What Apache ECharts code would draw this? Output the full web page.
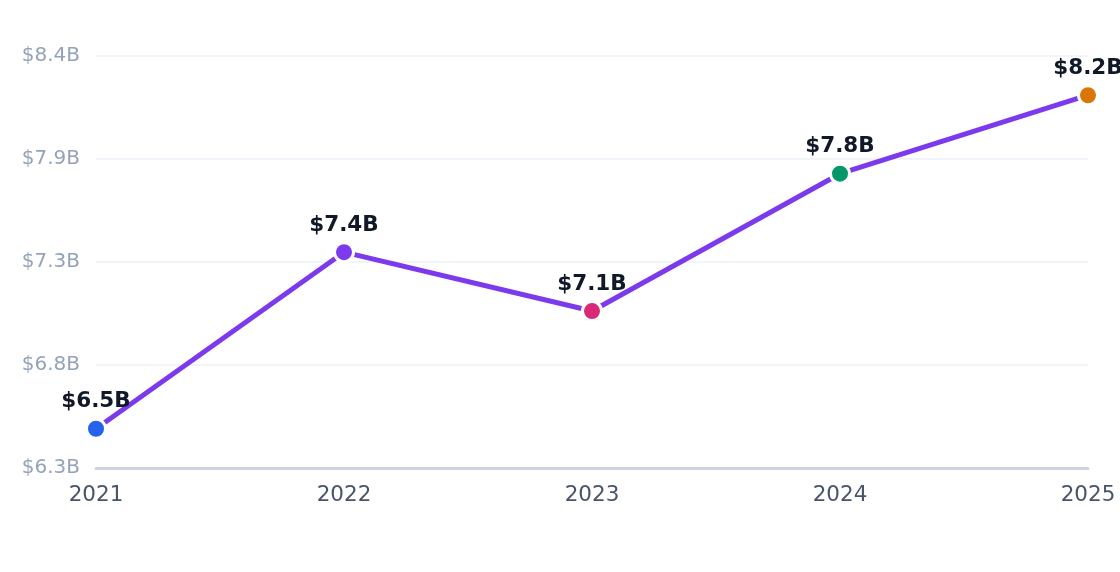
<!DOCTYPE html>
<html>
<head>
<meta charset="utf-8">
<script src="https://cdn.jsdelivr.net/npm/echarts@6/dist/echarts.min.js"></script>
<style>
  html, body { margin: 0; padding: 0; background: #fff; }
  #chart { width: 1120px; height: 572px; }
</style>
</head>
<body>
<div id="chart"></div>
<script>
// data
var years = ['2021', '2022', '2023', '2024', '2025'];
var revenue = [6.5, 7.4, 7.1, 7.8, 8.2];
var pointColors = ['#2563eb', '#7c3aed', '#db2777', '#059669', '#d97706'];
var yMin = 6.3;
var yMax = 8.4;
var yStep = 0.525;

var chart = echarts.init(document.getElementById('chart'));

var points = revenue.map(function (v, i) {
    return {
        value: v,
        itemStyle: { color: pointColors[i] }
    };
});

var option = {
    animation: false,
    grid: {
        left: 96,
        right: 32,
        top: 56,
        bottom: 104
    },
    xAxis: {
        type: 'category',
        boundaryGap: false,
        data: years,
        axisLine: { lineStyle: { color: '#cbd5e1', width: 3 } },
        axisTick: { show: false },
        axisLabel: {
            color: '#475569',
            fontSize: 21.5,
            fontFamily: 'DejaVu Sans',
            margin: 16
        }
    },
    yAxis: {
        type: 'value',
        min: yMin,
        max: yMax,
        interval: yStep,
        axisLine: { show: false },
        axisTick: { show: false },
        splitLine: { lineStyle: { color: '#f1f5f9', width: 2 } },
        axisLabel: {
            color: '#94a3b8',
            fontSize: 20,
            fontFamily: 'DejaVu Sans',
            margin: 16,
            padding: [7, 0, 0, 0],
            formatter: function (v) {
                return '$' + v.toFixed(1) + 'B';
            }
        }
    },
    series: [{
        type: 'line',
        data: points,
        symbol: 'circle',
        symbolSize: 19,
        lineStyle: { color: '#7c3aed', width: 5 },
        itemStyle: { borderColor: '#fff', borderWidth: 3 },
        label: {
            show: true,
            position: 'top',
            distance: 5,
            color: '#111827',
            fontSize: 21.5,
            fontWeight: 'bold',
            fontFamily: 'DejaVu Sans',
            formatter: function (p) {
                return '$' + p.value.toFixed(1) + 'B';
            }
        }
    }]
};

chart.setOption(option);
</script>
</body>
</html>
